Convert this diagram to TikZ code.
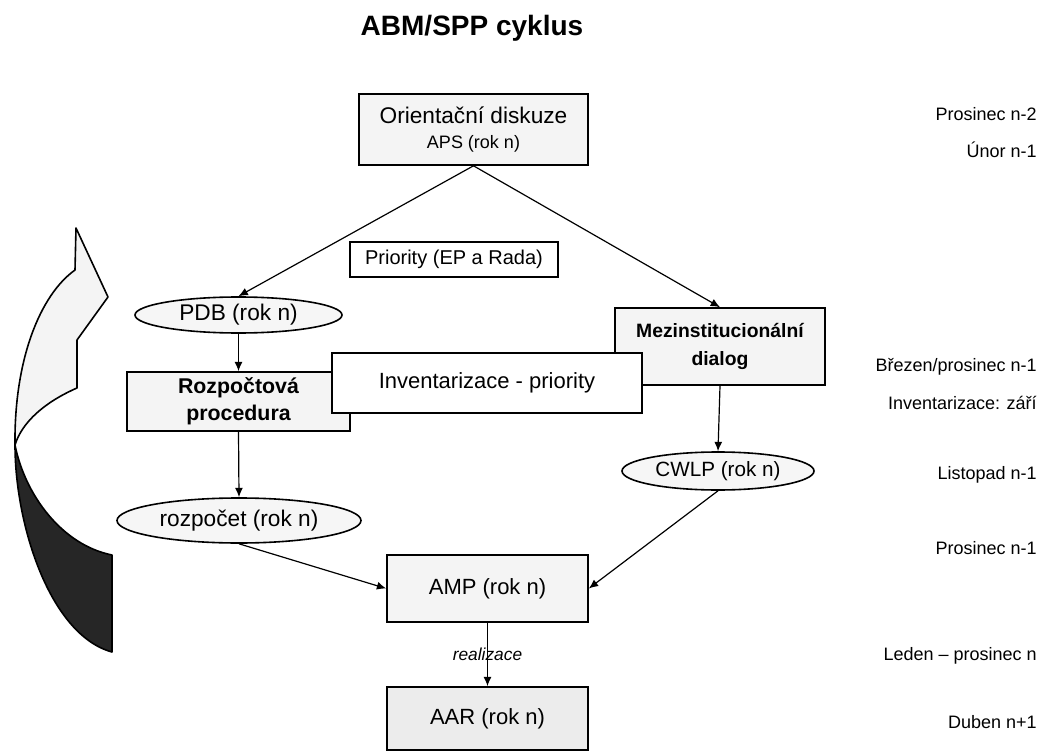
\documentclass[tikz,border=0pt]{standalone}
\usepackage{fontspec}
\setmainfont{Liberation Sans}
\usetikzlibrary{shapes.geometric,arrows.meta}
\begin{document}
\begin{tikzpicture}[x=0.75pt,y=-0.75pt,
  boxg/.style={draw, line width=1.2pt, fill=gray!9, rectangle, inner sep=0pt, align=center},
  boxd/.style={draw, line width=1.2pt, fill=gray!15, rectangle, inner sep=0pt, align=center},
  boxw/.style={draw, line width=1.2pt, fill=white, rectangle, inner sep=0pt, align=center},
  ellg/.style={draw, ellipse, line width=1.2pt, fill=gray!7, inner sep=0pt, align=center},
  conn/.style={line width=0.9pt, -{Latex[length=7pt,width=6pt]}},
  side/.style={anchor=east, inner sep=0pt, font=\fontsize{13.5}{16}\selectfont}]
\useasboundingbox (0,0) rectangle (1042,752);
\fill[white] (0,0) rectangle (1042,752);

% title
\node[font=\fontsize{21}{24}\bfseries\selectfont] (title) at (472,28) {ABM/SPP cyklus};

% boxes
\node[boxg, minimum width=171.75pt, minimum height=53.25pt,
  font=\fontsize{17}{22}\selectfont] (or) at (473.5,129.5)
  {Orientační diskuze\\[-3pt]{\fontsize{13.5}{16}\selectfont APS (rok n)}};
\node[boxw, minimum width=156pt, minimum height=26.25pt,
  font=\fontsize{15}{18}\selectfont] (pri) at (454,259.5) {Priority (EP a Rada)};
\node[ellg, minimum width=155.25pt, minimum height=27pt,
  font=\fontsize{17}{20}\selectfont] (pdb) at (238.5,315) {PDB (rok n)};
\node[boxg, minimum width=157.5pt, minimum height=57.75pt,
  font=\fontsize{14.5}{21}\bfseries\selectfont] (mez) at (720,346.5) {Mezinstitucionální\\dialog};
\node[boxg, minimum width=167.25pt, minimum height=44.25pt,
  font=\fontsize{16}{20}\bfseries\selectfont] (roz) at (238.5,401.5) {Rozpočtová\\procedura};
\node[ellg, minimum width=144pt, minimum height=28.5pt,
  font=\fontsize{15.5}{18}\selectfont] (cwlp) at (718,471) {CWLP (rok n)};
\node[ellg, minimum width=183pt, minimum height=33.75pt,
  font=\fontsize{17}{20}\selectfont] (rzp) at (239,520.5) {rozpočet (rok n)};
\node[boxg, minimum width=150.75pt, minimum height=50.25pt,
  font=\fontsize{16.5}{20}\selectfont] (amp) at (487.5,588.5) {AMP (rok n)};
\node[boxd, minimum width=150.75pt, minimum height=47.25pt,
  font=\fontsize{16.5}{20}\selectfont] (aar) at (487.5,718.5) {AAR (rok n)};

% connectors
\draw[conn] (or.south) -- (pdb.north);
\draw[conn] (or.south) -- (mez.north);
\draw[conn] (pdb.south) -- (roz.north);
\draw[conn] (roz.south) -- (rzp.north);
\draw[conn] (mez.south) -- (cwlp.north);
\draw[conn] (rzp.south) -- (amp.west);
\draw[conn] (cwlp.south) -- (amp.east);
\draw[conn] (amp.south) -- node[font=\fontsize{13}{15}\itshape\selectfont, inner sep=1pt] (real) {realizace} (aar.north);

% inventarizace drawn over its neighbours
\node[boxw, minimum width=232.5pt, minimum height=45pt,
  font=\fontsize{16.5}{20}\selectfont] (inv) at (487,383) {Inventarizace - priority};

% right column
\node[side] (t1) at (1037,114) {Prosinec n-2};
\node[side] (t2) at (1037,150) {Únor n-1};
\node[side] (t3) at (1037,367) {Březen/prosinec n-1};
\node[side] (t4) at (1037,403) {Inventarizace: září};
\node[side] (t5) at (1037,475) {Listopad n-1};
\node[side] (t6) at (1037,548) {Prosinec n-1};
\node[side] (t7) at (1037,656) {Leden – prosinec n};
\node[side] (t8) at (1037,722) {Duben n+1};

% curved cycle arrow
\draw[line width=1.2pt, fill=gray!9, line join=round]
  (15,445) .. controls (14,360) and (40,295) .. (75,270) -- (76,228) -- (108,297)
  -- (77,340) -- (77,388) .. controls (45,402) and (22,422) .. (15,445) -- cycle;
\draw[line width=1.2pt, fill=black!85, line join=round]
  (15,445) .. controls (15,525) and (50,635) .. (112,652) -- (112,555)
  .. controls (62,545) and (25,495) .. (15,445) -- cycle;
\end{tikzpicture}
\end{document}
